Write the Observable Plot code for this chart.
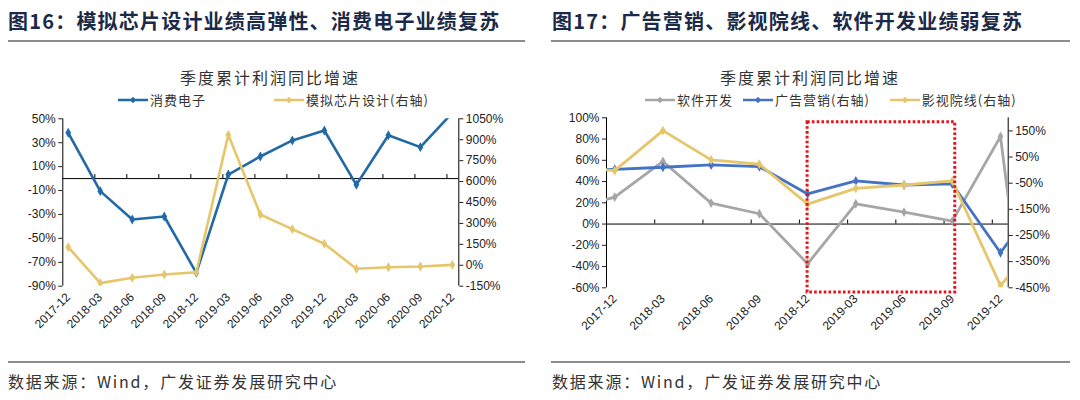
<!DOCTYPE html>
<html><head><meta charset="utf-8">
<script src="https://cdn.jsdelivr.net/npm/d3@7"></script>
<script src="https://cdn.jsdelivr.net/npm/@observablehq/plot@0.6"></script>
<style>
body{margin:0;background:#fff;width:1080px;height:400px;overflow:hidden;position:relative;font-family:"Noto Sans CJK SC",sans-serif;}
.abs{position:absolute;white-space:nowrap;}
.title{font-size:20px;font-weight:700;color:#1b2a48;letter-spacing:1.2px;top:6px;}
.rule{position:absolute;height:2px;background:#8c8c8c;}
.sub{font-size:16px;color:#333;letter-spacing:2px;top:65px;}
.legend{font-size:13px;color:#333;top:90px;display:flex;align-items:center;letter-spacing:1px;}
.legend svg{margin-right:2px;}
.item{display:flex;align-items:center;}
.src{font-size:16px;color:#333;letter-spacing:1.8px;top:369px;}
.chart{position:absolute;top:105px;}
</style></head><body>
<div class="abs title" style="left:8px">图16：模拟芯片设计业绩高弹性、消费电子业绩复苏</div>
<div class="rule" style="left:8px;width:517px;top:40px"></div>
<div class="abs sub" style="left:180px">季度累计利润同比增速</div>
<div class="abs legend" id="leg1" style="left:118px"></div>
<div class="chart" id="c1" style="left:0px"></div>
<div class="rule" style="left:8px;width:517px;top:361px"></div>
<div class="abs src" style="left:8px">数据来源：Wind，广发证券发展研究中心</div>

<div class="abs title" style="left:552px">图17：广告营销、影视院线、软件开发业绩弱复苏</div>
<div class="rule" style="left:551px;width:519px;top:40px"></div>
<div class="abs sub" style="left:720px">季度累计利润同比增速</div>
<div class="abs legend" id="leg2" style="left:645px"></div>
<div class="chart" id="c2" style="left:540px"></div>
<div class="rule" style="left:551px;width:519px;top:361px"></div>
<div class="abs src" style="left:552px">数据来源：Wind，广发证券发展研究中心</div>

<script>
// ---------- Chart 16 data ----------
const cats1 = ["2017-12","2018-03","2018-06","2018-09","2018-12","2019-03","2019-06","2019-09","2019-12","2020-03","2020-06","2020-09","2020-12"];
const consumerElec = [38.3,-10.5,-34.2,-31.7,-78.8,3.4,18.5,31.9,40.2,-5.2,36.3,26.3,55];
const analogChip = [130,-128,-90,-66,-50,935,364,259,154,-25,-14,-9,3];
const yLeft1 = [-90,-70,-50,-30,-10,10,30,50];
const yRight1 = [-150,0,150,300,450,600,750,900,1050];
const names1 = ["消费电子","模拟芯片设计(右轴)"];

// ---------- Chart 17 data ----------
const cats2 = ["2017-12","2018-03","2018-06","2018-09","2018-12","2019-03","2019-06","2019-09","2019-12"];
// series include the neighbouring quarters (2017-09, 2020-03) that are cut off at the axes
const cats2Ext = ["2017-09", ...cats2, "2020-03"];
const software = [13,25.3,58.9,19.7,9.7,-37.4,19.1,11.2,2.8,82.4,-276];
const adMarketing = [3,3,11,19.8,13,-91,-41.5,-57,-53,-316,-63];
const cinema = [15,-2,151,39,22.4,-130,-69.6,-57,-41.5,-442,-216];
const yLeft2 = [-60,-40,-20,0,20,40,60,80,100];
const yRight2 = [-450,-350,-250,-150,-50,50,150];
const names2 = ["软件开发","广告营销(右轴)","影视院线(右轴)"];
const highlight = ["2018-12","2019-09"];

const blue1 = "#2269a6", yellow = "#e6c66a", blue2 = "#4472c4", gray = "#a6a6a6";
const axisFont = {fontFamily:"'Liberation Sans', Arial, sans-serif", fontSize:"12px", color:"#222", background:"transparent", overflow:"visible"};

function swatch(color){
  return `<svg width="30" height="10"><line x1="0" y1="5" x2="30" y2="5" stroke="${color}" stroke-width="2.5"/><path d="M15,1.8L18.2,5L15,8.2L11.8,5Z" fill="${color}"/></svg>`;
}
document.getElementById("leg1").innerHTML =
  `<span class="item">${swatch(blue1)}${names1[0]}</span><span class="item" style="margin-left:68px">${swatch(yellow)}${names1[1]}</span>`;
document.getElementById("leg2").innerHTML =
  `<span class="item">${swatch(gray)}${names2[0]}</span><span class="item" style="margin-left:10px">${swatch(blue2)}${names2[1]}</span><span class="item" style="margin-left:20px">${swatch(yellow)}${names2[2]}</span>`;

// ---------- Chart 16 ----------
{
  const xD = [-0.17, 12.2];
  const L = [-90, 50], R = [-150, 1050];
  const r2l = v => L[0] + (v - R[0]) / (R[1] - R[0]) * (L[1] - L[0]);
  const l2r = v => R[0] + (v - L[0]) / (L[1] - L[0]) * (R[1] - R[0]);
  const idx = cats1.map((_, i) => i);
  const rows = cats1.map((c, i) => ({i, a: consumerElec[i], b: r2l(analogChip[i])}));
  const chart = Plot.plot({
    width: 540, height: 245,
    marginTop: 13.3, marginBottom: 64.3, marginLeft: 62.3, marginRight: 81.7,
    x: {type: "linear", domain: xD, label: null},
    y: {domain: L, label: null},
    style: axisFont,
    marks: [
      Plot.ruleY([0], {stroke: "#000", strokeWidth: 1}),
      Plot.ruleX(idx.slice(1).map(i => i - 0.17), {y1: 0, y2: 0, insetTop: -4, stroke: "#000"}),
      Plot.ruleX([xD[0]], {stroke: "#000"}),
      Plot.ruleX([xD[1]], {stroke: "#000"}),
      Plot.axisY({anchor: "left", label: null, ticks: yLeft1, tickSize: 4, tickPadding: 3, tickFormat: d => d + "%"}),
      Plot.axisY({anchor: "right", label: null, ticks: yRight1.map(r2l), tickSize: 4, tickPadding: 3, tickFormat: d => Math.round(l2r(d)) + "%"}),
      Plot.axisX({anchor: "bottom", label: null, ticks: idx, tickSize: 0, tickPadding: 9, tickRotate: -45, tickFormat: i => cats1[i]}),
      Plot.line(rows, {x: "i", y: "a", stroke: blue1, strokeWidth: 2.6, clip: true}),
      Plot.dot(rows, {x: "i", y: "a", symbol: "diamond", r: 3, fill: blue1, clip: true}),
      Plot.line(rows, {x: "i", y: "b", stroke: yellow, strokeWidth: 2.6, clip: true}),
      Plot.dot(rows, {x: "i", y: "b", symbol: "diamond", r: 3, fill: yellow, clip: true})
    ]
  });
  document.getElementById("c1").append(chart);
}

// ---------- Chart 17 ----------
{
  const xD = [-0.17, 8.16];
  const L = [-60, 100], R = [-450, 200];
  const r2l = v => L[0] + (v - R[0]) / (R[1] - R[0]) * (L[1] - L[0]);
  const l2r = v => R[0] + (v - L[0]) / (L[1] - L[0]) * (R[1] - R[0]);
  const idx = cats2.map((_, i) => i);
  const rows = cats2Ext.map((c, k) => ({i: k - 1, s: software[k], a: r2l(adMarketing[k]), c: r2l(cinema[k])}));
  const hl = [{x1: cats2.indexOf(highlight[0]), x2: cats2.indexOf(highlight[1])}];
  const chart = Plot.plot({
    width: 540, height: 245,
    marginTop: 12.3, marginBottom: 62.7, marginLeft: 66, marginRight: 72.3,
    x: {type: "linear", domain: xD, label: null},
    y: {domain: L, label: null},
    style: axisFont,
    marks: [
      Plot.ruleY([0], {stroke: "#000", strokeWidth: 1}),
      Plot.ruleX(idx.slice(1).map(i => i - 0.17), {y1: 0, y2: 0, insetTop: -4, stroke: "#000"}),
      Plot.ruleX([xD[0]], {stroke: "#000"}),
      Plot.ruleX([xD[1]], {stroke: "#000"}),
      Plot.axisY({anchor: "left", label: null, ticks: yLeft2, tickSize: 4, tickPadding: 3, tickFormat: d => d + "%"}),
      Plot.axisY({anchor: "right", label: null, ticks: yRight2.map(r2l), tickSize: 4, tickPadding: 3, tickFormat: d => Math.round(l2r(d)) + "%"}),
      Plot.axisX({anchor: "bottom", label: null, ticks: idx, tickSize: 0, tickPadding: 9, tickRotate: -45, tickFormat: i => cats2[i]}),
      Plot.line(rows, {x: "i", y: "s", stroke: gray, strokeWidth: 2.8, clip: true}),
      Plot.dot(rows, {x: "i", y: "s", symbol: "diamond", r: 3, fill: gray, clip: true}),
      Plot.line(rows, {x: "i", y: "a", stroke: blue2, strokeWidth: 2.8, clip: true}),
      Plot.dot(rows, {x: "i", y: "a", symbol: "diamond", r: 3, fill: blue2, clip: true}),
      Plot.line(rows, {x: "i", y: "c", stroke: yellow, strokeWidth: 2.8, clip: true}),
      Plot.dot(rows, {x: "i", y: "c", symbol: "diamond", r: 3, fill: yellow, clip: true}),
      Plot.rect(hl, {x1: "x1", x2: "x2", y1: L[0], y2: L[1], insetTop: 4.4, insetBottom: -4.7, insetRight: -3, fill: "none", stroke: "#e5121b", strokeWidth: 3, strokeDasharray: "2.6,2.2"})
    ]
  });
  document.getElementById("c2").append(chart);
}
</script>
</body></html>
